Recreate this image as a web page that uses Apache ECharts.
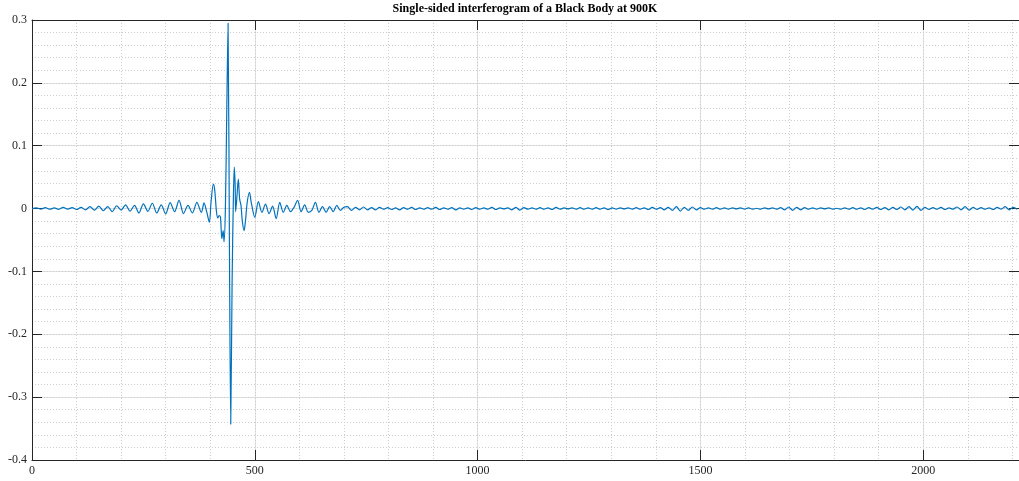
<!DOCTYPE html>
<html>
<head>
<meta charset="utf-8">
<script src="https://cdn.jsdelivr.net/npm/echarts@6/dist/echarts.min.js"></script>
<style>
  html, body { margin: 0; padding: 0; background: #fff; }
  #chart { width: 1019px; height: 481px; }
</style>
</head>
<body>
<div id="chart"></div>
<script>
// axis ranges
var xMax = 2215;
var yMin = -0.4, yMax = 0.3;

// quiet lead-in before the burst, one value every 10 samples from 0
var preStart = 0, preStep = 10;
var preValues = [
    0, 0.0012, -0.0008, 0.0015, -0.0010, 0.0010, -0.0012, 0.0020, -0.0008, 0.0015,
    -0.0015, 0.0020, -0.0020, 0.0030, -0.0025, 0.0040, -0.0035, 0.0030, -0.0050, 0.0045,
    -0.0025, 0.0060, -0.0040, 0.0050, -0.0070, 0.0075, -0.0045, 0.0085, -0.0070, 0.0060,
    -0.0085, 0.0095, -0.0050, 0.0130, -0.0080, 0.0050, -0.0070, 0.0100, -0.0060
];

// centre burst, read point by point
var burstX = [386, 392, 398, 402, 407, 410, 414, 417, 420, 423, 426, 429, 431, 434, 437, 440,
    443, 446, 449, 452, 454, 456, 457, 460, 463, 466, 469, 472, 476, 479, 483, 488];
var burstY = [0.009, -0.005, -0.022, 0.012, 0.039, 0.030, -0.005, -0.015, -0.011, -0.014, -0.048, -0.035, -0.053, 0.000, 0.150, 0.295,
    -0.050, -0.343, -0.120, 0.020, 0.066, 0.035, -0.005, 0.020, 0.047, 0.015, 0.005, -0.020, -0.035, -0.020, 0.010, 0.026];

// decaying ripple after the burst
var decayStart = 492, decayStep = 8;
var decayValues = [
    0.010, -0.014, 0.011, -0.006, 0.007, -0.008, 0.004, -0.016, 0.010, -0.006,
    0.005, -0.005, 0.002, 0.013, -0.005, 0.006, -0.006, -0.003, 0.010, -0.006,
    0.003, -0.006, 0.003, -0.005, 0.005, -0.003, 0.002
];

// long flat tail
var tailStart = 708, tailStep = 9;
var tailValues = [
    0.003, -0.003, 0.002, -0.002, 0.0025, -0.002, 0.0015, -0.002, 0.002, -0.001,
    0.0015, -0.0015, 0.001, -0.002, 0.0015, -0.001, 0.002, -0.0015, 0.001, -0.001,
    0.0015, -0.001, 0.002, -0.0015, 0.001, -0.001, 0.0015, -0.002, 0.001, -0.001,
    0.001, -0.0015, 0.0015, -0.001, 0.001, -0.001, 0.002, -0.0015, 0.001, -0.0005,
    0.001, -0.002, 0.002, -0.0025, 0.0015, -0.001, 0.001, -0.001, 0.0015, -0.001,
    0.001, -0.0015, 0.002, -0.001, 0.001, -0.0005, 0.001, -0.001, 0.0015, -0.001,
    0.001, -0.001, 0.0015, -0.001, 0.001, -0.0015, 0.001, -0.001, 0.001, -0.0005,
    0.001, -0.001, 0.0015, -0.001, 0.001, -0.0015, 0.002, -0.001, 0.0015, -0.002,
    0.002, -0.003, 0.003, -0.004, 0.002, -0.003, 0.0025, -0.002, 0.0015, -0.001,
    0.001, -0.001, 0.0015, -0.001, 0.001, -0.001, 0.001, -0.0005, 0.001, -0.001,
    0.001, -0.001, 0.0005, -0.001, 0.001, -0.0005, 0.001, -0.001, 0.0015, -0.002,
    0.0025, -0.003, 0.002, -0.002, 0.0015, -0.001, 0.001, -0.001, 0.001, -0.0005,
    0.001, -0.001, 0.0005, -0.001, 0.001, -0.001, 0.0015, -0.001, 0.001, -0.0015,
    0.0015, -0.001, 0.002, -0.0015, 0.0015, -0.002, 0.002, -0.0015, 0.0025, -0.002,
    0.003, -0.0025, 0.0035, -0.003, 0.002, -0.0015, 0.0015, -0.001, 0.002, -0.0015,
    0.001, -0.001, 0.0025, -0.002, 0.003, -0.0025, 0.002, -0.0015, 0.0015, -0.001,
    0.001, -0.0015, 0.002, -0.001, 0.003, -0.002, 0.002, -0.001
];

var points = [];
preValues.forEach(function(v, i) { points.push([preStart + i * preStep, v]); });
burstX.forEach(function(x, i) { points.push([x, burstY[i]]); });
decayValues.forEach(function(v, i) { points.push([decayStart + i * decayStep, v]); });
tailValues.forEach(function(v, i) { points.push([tailStart + i * tailStep, v]); });

var axisColor = '#262626';
var serif = 'Liberation Serif';

var chart = echarts.init(document.getElementById('chart'));

var option = {
    animation: false,
    backgroundColor: '#fff',
    graphic: [{
        type: 'text',
        x: 525,
        y: 3,
        style: {
            text: 'Single-sided interferogram of a Black Body at 900K',
            align: 'center',
            verticalAlign: 'top',
            fontFamily: serif,
            fontWeight: 'bold',
            fontSize: 12,
            fill: '#000'
        }
    }],
    grid: {
        left: 32,
        top: 20,
        bottom: 21,
        right: 1019 - 32 - Math.round(xMax * 0.4492)
    },
    xAxis: [
        {   // bottom: labels, ticks, major grid
            type: 'value', min: 0, max: xMax, interval: 500, position: 'bottom',
            axisLine: { onZero: false, lineStyle: { color: axisColor, width: 1 } },
            axisTick: { inside: true, length: 10, lineStyle: { color: axisColor } },
            axisLabel: {
                showMaxLabel: false, color: axisColor, fontFamily: serif, fontSize: 12, margin: 5,
                formatter: function(v) { return String(v); }
            },
            splitLine: { show: true, lineStyle: { color: '#e2e2e2', width: 1 } }
        },
        {   // top box edge
            type: 'value', min: 0, max: xMax, interval: 500, position: 'top',
            axisLine: { onZero: false, lineStyle: { color: axisColor, width: 1 } },
            axisTick: { inside: true, length: 10, lineStyle: { color: axisColor } },
            axisLabel: { show: false },
            splitLine: { show: false }
        },
        {   // minor dotted grid
            type: 'value', min: 0, max: xMax, interval: 100, position: 'bottom',
            axisLine: { show: false }, axisTick: { show: false }, axisLabel: { show: false },
            splitLine: { show: true, lineStyle: { color: '#cdcdcd', width: 1, type: [1, 2] } }
        }
    ],
    yAxis: [
        {
            type: 'value', min: yMin, max: yMax, interval: 0.1, position: 'left',
            axisLine: { show: true, onZero: false, lineStyle: { color: axisColor, width: 1 } },
            axisTick: { show: true, inside: true, length: 10, lineStyle: { color: axisColor } },
            axisLabel: { color: axisColor, fontFamily: serif, fontSize: 12, margin: 5 },
            splitLine: { show: true, lineStyle: { color: '#e2e2e2', width: 1 } }
        },
        {
            type: 'value', min: yMin, max: yMax, interval: 0.1, position: 'right',
            axisLine: { show: true, onZero: false, lineStyle: { color: axisColor, width: 1 } },
            axisTick: { show: true, inside: true, length: 10, lineStyle: { color: axisColor } },
            axisLabel: { show: false },
            splitLine: { show: false }
        },
        {
            type: 'value', min: yMin, max: yMax, interval: 0.02, position: 'left',
            axisLine: { show: false }, axisTick: { show: false }, axisLabel: { show: false },
            splitLine: { show: true, lineStyle: { color: '#cdcdcd', width: 1, type: [1, 2] } }
        }
    ],
    series: [{
        type: 'line',
        xAxisIndex: 0,
        yAxisIndex: 0,
        data: points,
        showSymbol: false,
        symbol: 'none',
        sampling: 'none',
        smooth: 0.3,
        lineStyle: { color: '#0072BD', width: 1.2 },
        z: 5
    }]
};

chart.setOption(option);
</script>
</body>
</html>
